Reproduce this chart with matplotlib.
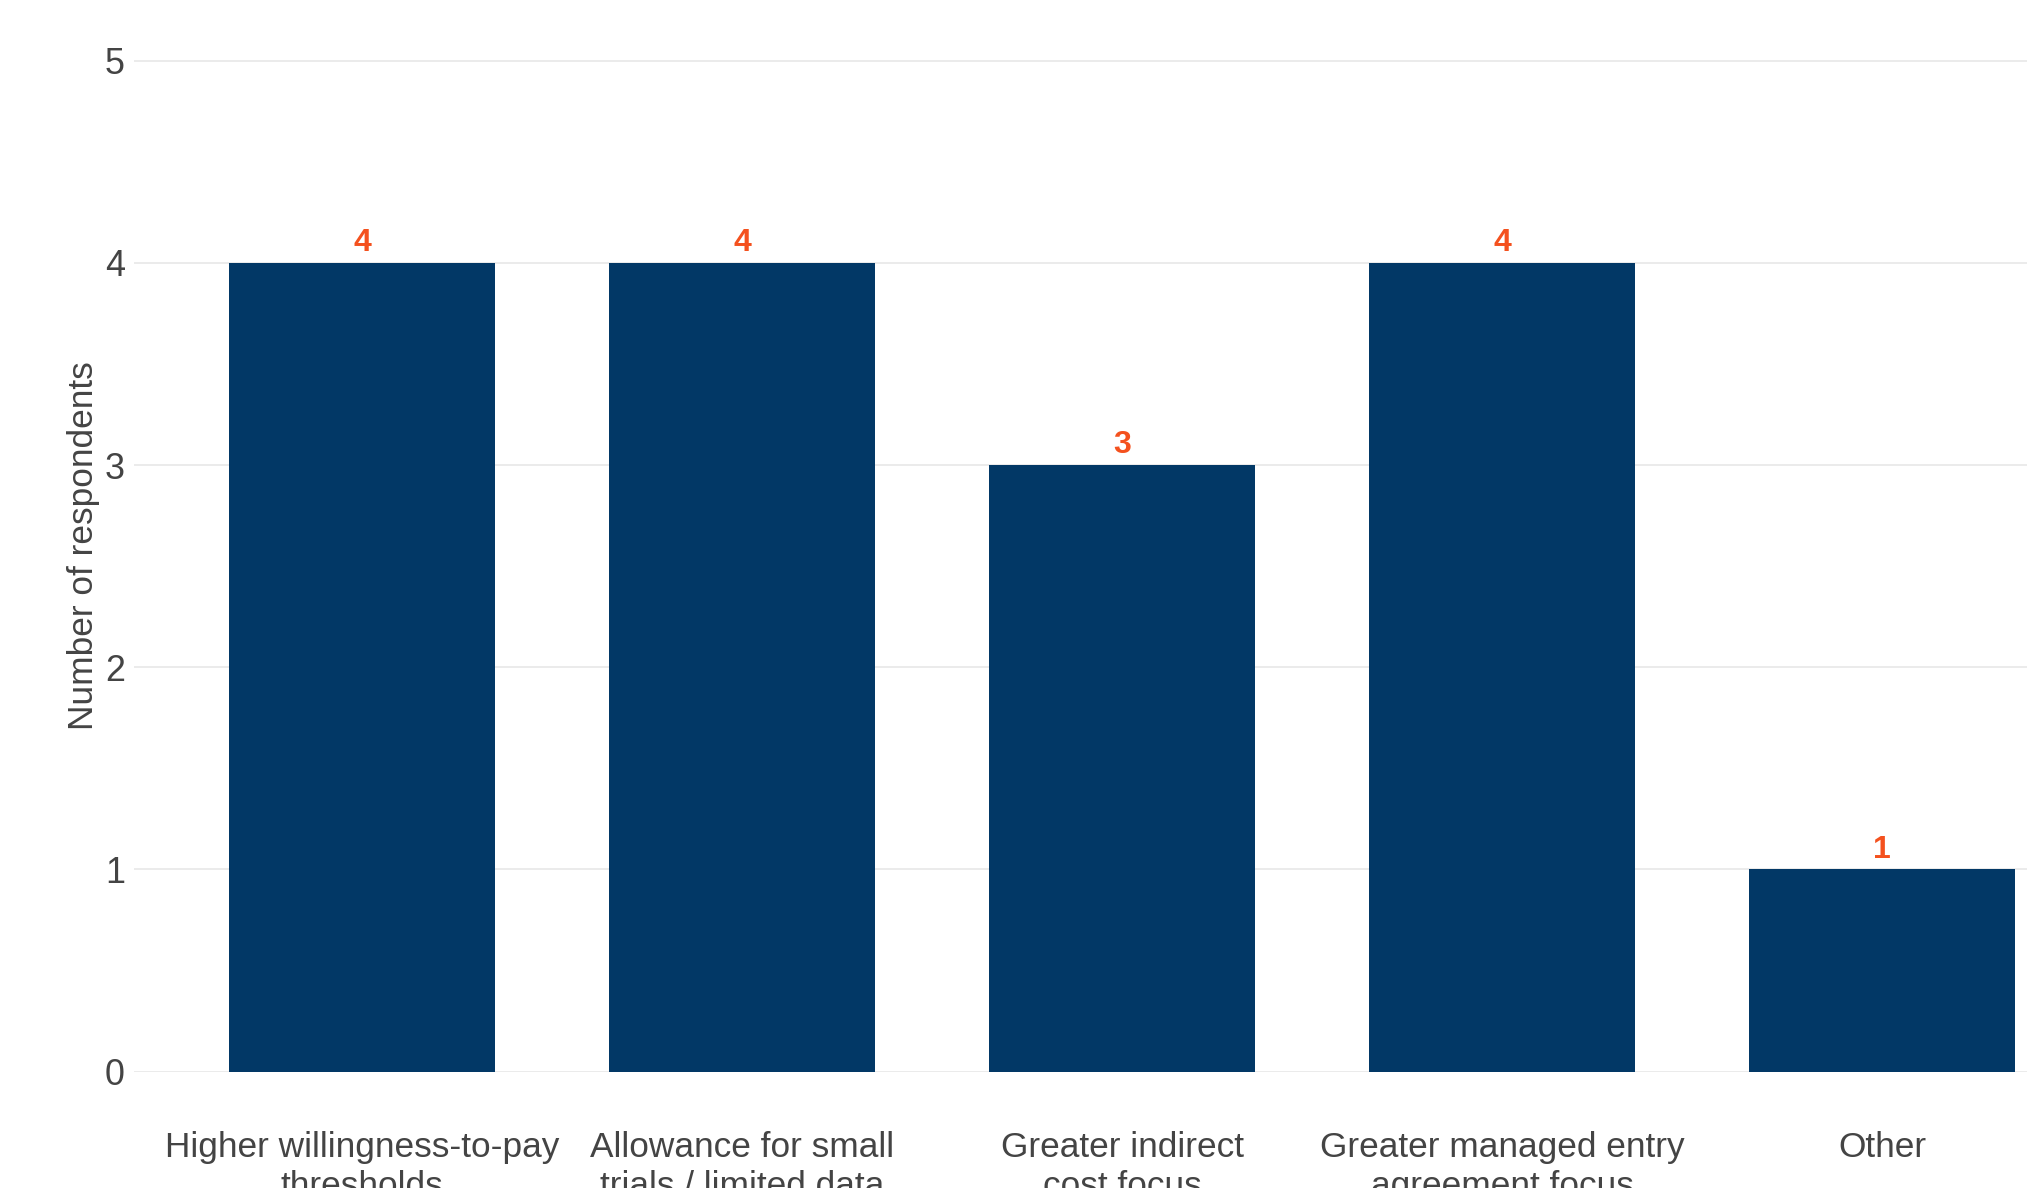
import matplotlib
matplotlib.use("Agg")
import matplotlib.pyplot as plt

categories = [
    "Higher willingness-to-pay\nthresholds",
    "Allowance for small\ntrials / limited data",
    "Greater indirect\ncost focus",
    "Greater managed entry\nagreement focus",
    "Other",
]
values = [4, 4, 3, 4, 1]
y_ticks = [0, 1, 2, 3, 4, 5]
y_label = "Number of respondents"

BAR = "#023866"
LABEL = "#F4511E"
TEXT = "#444444"
GRID = "#EBEBEB"

plt.rcParams["font.family"] = ["Liberation Sans", "DejaVu Sans"]

W, H = 2027, 1188
fig = plt.figure(figsize=(W / 100, H / 100), dpi=100)
fig.patch.set_facecolor("white")

left_px, right_px = 134.4, 2110.0
top_px, bottom_px = 20.2, 1071.6
ax = fig.add_axes([left_px / W, 1 - bottom_px / H,
                   (right_px - left_px) / W, (bottom_px - top_px) / H])

x = list(range(len(categories)))
ax.bar(x, values, width=0.7, color=BAR, zorder=2)
for xi, v in zip(x, values):
    ax.annotate(str(v), (xi, v), xytext=(0, 8.4), textcoords="offset points",
                ha="center", va="baseline", color=LABEL, fontsize=23,
                fontweight="bold", zorder=3)

ax.set_xlim(-0.6, 4.6)
ax.set_ylim(0, 5.2)
ax.set_yticks(y_ticks)
ax.set_yticklabels([str(t) for t in y_ticks])
ax.set_xticks(x)
ax.set_xticklabels(categories, fontsize=25.4, color=TEXT, linespacing=1.2)
ax.tick_params(axis="x", length=0, pad=43)
ax.tick_params(axis="y", length=0, pad=6.8, labelsize=25.8, labelcolor=TEXT)

ax.grid(axis="y", color=GRID, linewidth=1.4, zorder=0)
ax.set_axisbelow(True)
for s in ax.spines.values():
    s.set_visible(False)

ax.set_ylabel(y_label, fontsize=25.4, color=TEXT, va="center")
ax.yaxis.set_label_coords((84 - left_px) / (right_px - left_px), 0.5)

fig.savefig("out.png", dpi=100, facecolor="white")
